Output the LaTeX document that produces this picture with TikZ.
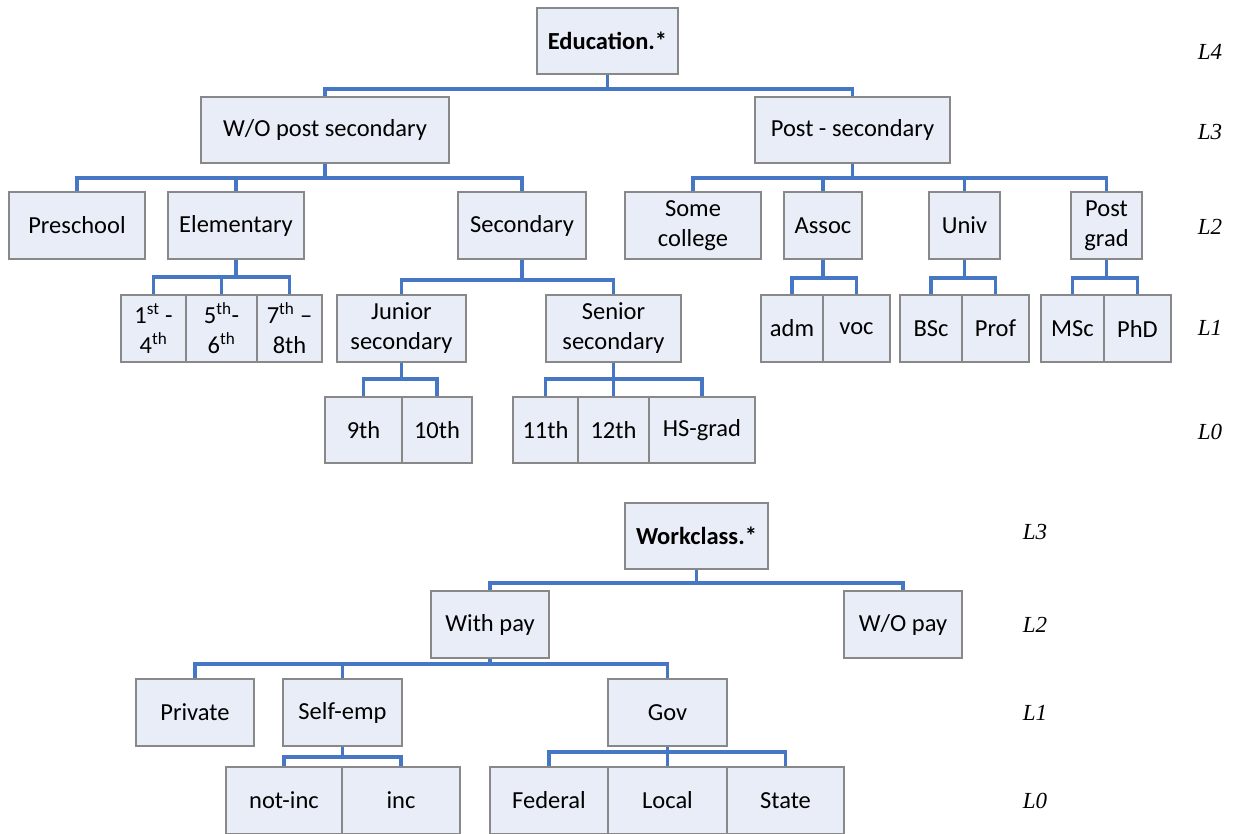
\documentclass[tikz,border=0pt]{standalone}
\usepackage{fontspec}
\setmainfont{Carlito}
\newfontfamily\levelfont{Liberation Serif}
\definecolor{boxfill}{HTML}{E8EDF7}
\definecolor{boxline}{HTML}{888888}
\definecolor{linkblue}{HTML}{4677C4}
\tikzset{
  box/.style={draw=boxline, fill=boxfill, line width=1.5pt, inner sep=0pt,
    align=center, font=\fontsize{24.5}{30}\selectfont},
  rootbox/.style={box, font=\fontsize{24.5}{30}\selectfont\bfseries},
  conn/.style={draw=linkblue, line width=3.2pt},
  level/.style={font=\fontsize{23}{27}\selectfont\levelfont\itshape}
}
\begin{document}
\begin{tikzpicture}[x=1pt, y=-1pt]
\useasboundingbox (0,0) rectangle (1239,833);
\clip (0,0) rectangle (1239,833);

% ---------------- Education hierarchy ----------------
\node[rootbox, minimum width=141, minimum height=66] (edu) at (607.5,41) {Education.*};

\node[box, minimum width=248, minimum height=66] (wops) at (325,130) {W/O post secondary};
\node[box, minimum width=195, minimum height=66] (ps) at (852.5,130) {Post - secondary};

\node[box, minimum width=136, minimum height=67] (pre) at (77,225.5) {Preschool};
\node[box, minimum width=136, minimum height=67] (elem) at (236,225.5) {Elementary};
\node[box, minimum width=128, minimum height=67] (sec) at (522,225.5) {Secondary};
\node[box, minimum width=136, minimum height=67] (some) at (693,225.5) {Some\\college};
\node[box, minimum width=78, minimum height=67] (assoc) at (823,225.5) {Assoc};
\node[box, minimum width=71, minimum height=67] (univ) at (964.5,225.5) {Univ};
\node[box, minimum width=71, minimum height=67] (pgrad) at (1106.5,225.5) {Post\\grad};

\node[box, minimum width=65, minimum height=67] (g14) at (153.5,328.5) {1\textsuperscript{st} -\\4\textsuperscript{th}};
\node[box, minimum width=71, minimum height=67] (g56) at (221.5,328.5) {5\textsuperscript{th}-\\6\textsuperscript{th}};
\node[box, minimum width=65, minimum height=67] (g78) at (289.5,328.5) {7\textsuperscript{th} –\\8th};
\node[box, minimum width=129, minimum height=67] (jun) at (401.5,328.5) {Junior\\secondary};
\node[box, minimum width=135, minimum height=67] (sen) at (613.5,328.5) {Senior\\secondary};
\node[box, minimum width=62, minimum height=67] (adm) at (792,328.5) {adm};
\node[box, minimum width=67, minimum height=67] (voc) at (856.5,328.5) {voc};
\node[box, minimum width=62, minimum height=67] (bsc) at (931,328.5) {BSc};
\node[box, minimum width=67, minimum height=67] (prof) at (995.5,328.5) {Prof};
\node[box, minimum width=63, minimum height=67] (msc) at (1072.5,328.5) {MSc};
\node[box, minimum width=67, minimum height=67] (phd) at (1137.5,328.5) {PhD};

\node[box, minimum width=77, minimum height=66] (g9) at (363.5,430) {9th};
\node[box, minimum width=70, minimum height=66] (g10) at (437,430) {10th};
\node[box, minimum width=65, minimum height=66] (g11) at (545.5,430) {11th};
\node[box, minimum width=71, minimum height=66] (g12) at (613.5,430) {12th};
\node[box, minimum width=106, minimum height=66] (hs) at (702,430) {HS-grad};

\foreach \c in {wops,ps} \draw[conn] (edu.south) -- (edu.south |- 0,89) -| (\c.north);
\foreach \c in {pre,elem,sec} \draw[conn] (wops.south) -- (wops.south |- 0,178) -| (\c.north);
\foreach \c in {some,assoc,univ,pgrad} \draw[conn] (ps.south) -- (ps.south |- 0,178) -| (\c.north);
\foreach \c in {g14,g56,g78} \draw[conn] (elem.south) -- (elem.south |- 0,277) -| (\c.north);
\foreach \c in {jun,sen} \draw[conn] (sec.south) -- (sec.south |- 0,280) -| (\c.north);
\foreach \c in {adm,voc} \draw[conn] (assoc.south) -- (assoc.south |- 0,278) -| (\c.north);
\foreach \c in {bsc,prof} \draw[conn] (univ.south) -- (univ.south |- 0,278) -| (\c.north);
\foreach \c in {msc,phd} \draw[conn] (pgrad.south) -- (pgrad.south |- 0,278) -| (\c.north);
\foreach \c in {g9,g10} \draw[conn] (jun.south) -- (jun.south |- 0,379) -| (\c.north);
\foreach \c in {g11,g12,hs} \draw[conn] (sen.south) -- (sen.south |- 0,379) -| (\c.north);

\node[level] (e4) at (1210,52) {L4};
\node[level] (e3) at (1210,132) {L3};
\node[level] (e2) at (1210,227) {L2};
\node[level] (e1) at (1210,328) {L1};
\node[level] (e0) at (1210,432) {L0};

% ---------------- Workclass hierarchy ----------------
\node[rootbox, minimum width=143, minimum height=66] (work) at (696.5,536) {Workclass.*};

\node[box, minimum width=118, minimum height=67] (pay) at (490,624.5) {With pay};
\node[box, minimum width=118, minimum height=67] (nopay) at (903,624.5) {W/O pay};

\node[box, minimum width=118, minimum height=67] (priv) at (195,712.5) {Private};
\node[box, minimum width=119, minimum height=67] (self) at (342.5,712.5) {Self-emp};
\node[box, minimum width=119, minimum height=67] (gov) at (667.5,712.5) {Gov};

\node[box, minimum width=116, minimum height=67] (notinc) at (284,800.5) {not-inc};
\node[box, minimum width=118, minimum height=67] (inc) at (401,800.5) {inc};
\node[box, minimum width=118, minimum height=67] (fed) at (549,800.5) {Federal};
\node[box, minimum width=119, minimum height=67] (loc) at (667.5,800.5) {Local};
\node[box, minimum width=117, minimum height=67] (state) at (785.5,800.5) {State};

\foreach \c in {pay,nopay} \draw[conn] (work.south) -- (work.south |- 0,583) -| (\c.north);
\foreach \c in {priv,self,gov} \draw[conn] (pay.south) -- (pay.south |- 0,664) -| (\c.north);
\foreach \c in {notinc,inc} \draw[conn] (self.south) -- (self.south |- 0,757) -| (\c.north);
\foreach \c in {fed,loc,state} \draw[conn] (gov.south) -- (gov.south |- 0,752) -| (\c.north);

\node[level] (w3) at (1035,532) {L3};
\node[level] (w2) at (1035,625) {L2};
\node[level] (w1) at (1035,713) {L1};
\node[level] (w0) at (1035,801) {L0};
\end{tikzpicture}
\end{document}
